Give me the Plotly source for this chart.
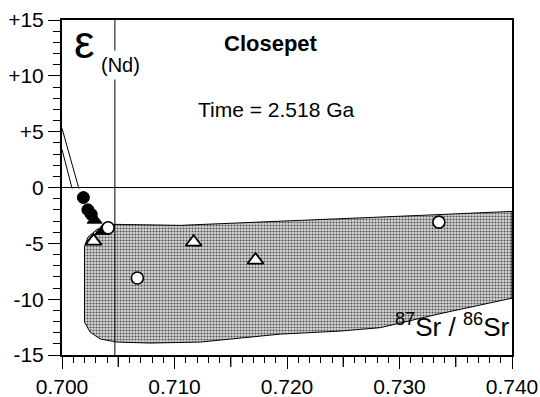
import plotly.graph_objects as go

# ---------------- data ----------------
# shaded field (87Sr/86Sr, eps Nd) boundary
region_x = [0.7031, 0.7047, 0.7105, 0.7194, 0.7247, 0.7318, 0.7400, 0.7400,
            0.7336, 0.7283, 0.7247, 0.7194, 0.7123, 0.7078, 0.7049, 0.7034,
            0.7025, 0.7020, 0.7020, 0.7020, 0.7023, 0.7031]
region_y = [-3.75, -3.30, -3.39, -3.04, -2.77, -2.50, -2.14, -9.91,
            -11.30, -12.55, -12.86, -13.13, -13.84, -13.93, -13.84, -13.57,
            -12.95, -12.05, -8.21, -5.27, -4.46, -3.75]

# mantle evolution lines
mantle1_x = [0.7000, 0.7015]
mantle1_y = [5.3, -0.1]
mantle2_x = [0.7000, 0.7009]
mantle2_y = [3.4, -0.1]

# reference lines
bulk_earth_sr = 0.7047
chur_eps = 0.0

# sample points
filled_circle_x = [0.7019, 0.7023, 0.7026]
filled_circle_y = [-0.9, -2.0, -2.4]
filled_tri_x = [0.7029, 0.7036]
filled_tri_y = [-2.9, -3.9]
open_circle_x = [0.7041, 0.7067, 0.7335]
open_circle_y = [-3.6, -8.1, -3.1]
open_tri_x = [0.7028, 0.7117, 0.7172]
open_tri_y = [-4.8, -4.9, -6.5]

x_tickvals = [0.700, 0.710, 0.720, 0.730, 0.740]
x_ticktext = ["0.700", "0.710", "0.720", "0.730", "0.740"]
x_half_ticks = [0.705, 0.715, 0.725, 0.735]
y_tickvals = [-15, -10, -5, 0, 5, 10, 15]
y_ticktext = ["-15", "-10", "-5", "0", "+5", "+10", "+15"]

FONT = "Liberation Sans, Arial, Helvetica, sans-serif"

fig = go.Figure()

fig.add_trace(go.Scatter(
    x=region_x, y=region_y, mode="lines", fill="toself",
    line=dict(color="black", width=1),
    fillcolor="rgb(190,190,190)",
    fillpattern=dict(shape=".", fgcolor="rgb(80,80,80)", bgcolor="rgb(218,218,218)",
                     size=3, solidity=0.4, fillmode="replace"),
    hoverinfo="skip", showlegend=False))

for mx, my in [(mantle1_x, mantle1_y), (mantle2_x, mantle2_y)]:
    fig.add_trace(go.Scatter(x=mx, y=my, mode="lines",
                             line=dict(color="black", width=1), showlegend=False))

fig.add_trace(go.Scatter(x=[0.700, 0.740], y=[chur_eps, chur_eps], mode="lines",
                         line=dict(color="black", width=1), showlegend=False))
fig.add_trace(go.Scatter(x=[bulk_earth_sr, bulk_earth_sr], y=[-15, 15], mode="lines",
                         line=dict(color="black", width=1), showlegend=False))

fig.add_trace(go.Scatter(x=filled_circle_x, y=filled_circle_y, mode="markers",
                         marker=dict(symbol="circle", size=12, color="black",
                                     line=dict(color="black", width=1)), showlegend=False))
fig.add_trace(go.Scatter(x=filled_tri_x, y=filled_tri_y, mode="markers",
                         marker=dict(symbol="triangle-up", size=13, color="black",
                                     line=dict(color="black", width=1)), showlegend=False))
fig.add_trace(go.Scatter(x=open_circle_x, y=open_circle_y, mode="markers",
                         marker=dict(symbol="circle", size=12, color="white",
                                     line=dict(color="black", width=1.6)), showlegend=False))
fig.add_trace(go.Scatter(x=open_tri_x, y=open_tri_y, mode="markers",
                         marker=dict(symbol="triangle-up", size=14, color="white",
                                     line=dict(color="black", width=1.8)), showlegend=False))

axis_common = dict(showgrid=False, zeroline=False, showline=True, linecolor="black",
                   mirror=True, ticks="outside", ticklen=12, tickwidth=1.3,
                   tickcolor="black", automargin=False,
                   tickfont=dict(family=FONT, size=21, color="black"))

shapes = [dict(type="line", xref="x", yref="paper", x0=v, x1=v, y0=0, y1=-12 / 335,
               line=dict(color="black", width=1.3)) for v in x_half_ticks]

fig.update_layout(
    width=540, height=397,
    margin=dict(l=62, r=28, t=20, b=42),
    paper_bgcolor="white", plot_bgcolor="white",
    xaxis=dict(range=[0.6999999, 0.7400001], tickvals=x_tickvals, ticktext=x_ticktext,
               linewidth=2,
               minor=dict(dtick=0.001, ticklen=6, ticks="outside", tickcolor="black",
                          tickwidth=1.2),
               **axis_common),
    yaxis=dict(range=[-15, 15], tickvals=y_tickvals, ticktext=y_ticktext,
               linewidth=2,
               minor=dict(dtick=1, ticklen=7, ticks="outside", tickcolor="black",
                          tickwidth=1.2),
               **axis_common),
    shapes=shapes,
    annotations=[
        dict(text="ε", x=0.051, y=0.934, xref="paper", yref="paper", showarrow=False,
             font=dict(family=FONT, size=46, color="black"), xanchor="center", yanchor="middle"),
        dict(text="(Nd)", x=0.131, y=0.866, xref="paper", yref="paper", showarrow=False,
             font=dict(family=FONT, size=20, color="black"), bgcolor="white",
             xanchor="center", yanchor="middle", borderpad=3),
        dict(text="<b>Closepet</b>", x=0.4644, y=0.931, xref="paper", yref="paper",
             showarrow=False, font=dict(family=FONT, size=22, color="black"),
             xanchor="center", yanchor="middle"),
        dict(text="Time = 2.518 Ga", x=0.4767, y=0.734, xref="paper", yref="paper",
             showarrow=False, font=dict(family=FONT, size=21, color="black"),
             xanchor="center", yanchor="middle"),
        dict(text="<sup>87</sup>Sr / <sup>86</sup>Sr", x=0.8656, y=0.088,
             xref="paper", yref="paper", showarrow=False,
             font=dict(family=FONT, size=26, color="black"),
             xanchor="center", yanchor="middle"),
    ],
)

fig.write_html("out.html")
